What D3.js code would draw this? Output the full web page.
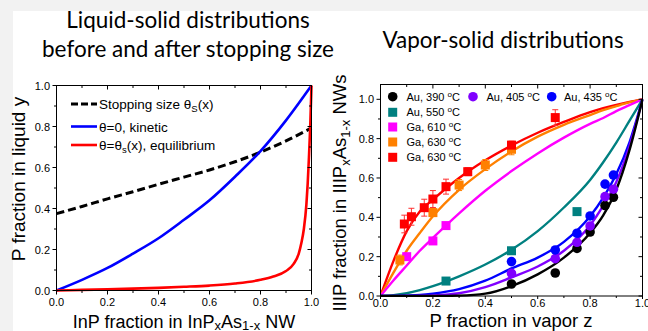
<!DOCTYPE html>
<html><head><meta charset="utf-8">
<script src="https://cdn.jsdelivr.net/npm/d3@7"></script>
<style>
html,body{margin:0;padding:0;background:#f2f2f2;}
svg{display:block;}
</style></head>
<body>
<svg id="c" width="648" height="331"></svg>
<script>
// ---------- Left panel data ----------
const leftX = [0,0.1,0.2,0.3,0.4,0.5,0.6,0.7,0.8,0.9,1.0];
const stopY = [0.375,0.41,0.447,0.482,0.518,0.553,0.588,0.628,0.675,0.73,0.793];
const kineticY = [0,0.052,0.11,0.18,0.255,0.345,0.44,0.555,0.68,0.83,1.0];
const equilX = [0,0.1,0.2,0.3,0.4,0.5,0.6,0.7,0.8,0.85,0.9,0.93,0.95,0.96,0.97,0.98,0.985,0.99,0.995,1.0];
const equilY = [0,0.003,0.006,0.009,0.013,0.018,0.024,0.034,0.052,0.068,0.095,0.13,0.18,0.23,0.3,0.42,0.52,0.65,0.8,1.0];
const leftTicks = ["0.0","0.2","0.4","0.6","0.8","1.0"];

// ---------- Right panel data ----------
const fitX = [0,0.05,0.1,0.15,0.2,0.3,0.4,0.5,0.6,0.7,0.8,0.85,0.9,0.95,1.0];
const fitAu390 = [0,0,0,0,0,0.002,0.012,0.05,0.11,0.195,0.32,0.41,0.54,0.74,1.0];
const fitAu405 = [0,0,0,0.001,0.003,0.014,0.045,0.095,0.15,0.23,0.36,0.46,0.58,0.76,1.0];
const fitAu435 = [0,0,0.002,0.005,0.012,0.035,0.078,0.14,0.195,0.275,0.405,0.5,0.62,0.78,1.0];
const fitAu550 = [0,0.004,0.014,0.03,0.05,0.1,0.16,0.235,0.33,0.45,0.59,0.68,0.78,0.89,1.0];
const fitGa610 = [0,0.08,0.155,0.23,0.295,0.42,0.535,0.635,0.725,0.805,0.875,0.905,0.94,0.97,1.0];
const fitGa630a = [0,0.12,0.23,0.32,0.405,0.54,0.645,0.735,0.81,0.87,0.92,0.945,0.965,0.984,1.0];
const fitGa630b = [0,0.18,0.33,0.43,0.49,0.6,0.69,0.765,0.83,0.885,0.935,0.955,0.972,0.987,1.0];

const auZ = [0.5,0.667,0.75,0.8,0.857,0.889];
const au390Y = [0.061,0.117,0.242,0.325,0.46,0.502];
const au405Y = [0.115,0.19,0.273,0.356,0.505,0.543];
const au435Y = [0.175,0.234,0.319,0.407,0.569,0.615];
const au550Z = [0.25,0.5,0.75];
const au550Y = [0.076,0.23,0.429];
const ga610Z = [0.1,0.2,0.25];
const ga610Y = [0.2,0.28,0.358];
const ga630aZ = [0.074,0.2,0.3,0.4,0.5];
const ga630aY = [0.183,0.424,0.564,0.666,0.746];
const ga630aE = [0.025,0.02,0.028,0.028,0.028];
const ga630bZ = [0.091,0.118,0.167,0.2,0.25,0.333,0.5,0.667];
const ga630bY = [0.366,0.403,0.449,0.493,0.556,0.632,0.767,0.907];
const ga630bE = [0.045,0.043,0.043,0.043,0.038,0.02,0.02,0.04];
const rightTicks = ["0.0","0.2","0.4","0.6","0.8","1.0"];

const legendLeft = ["Stopping size θS(x)","θ=0, kinetic","θ=θS(x), equilibrium"];
const legendRight = ["Au, 390 °C","Au, 405 °C","Au, 435 °C","Au, 550 °C","Ga, 610 °C","Ga, 630 °C","Ga, 630 °C"];

const svg = d3.select("#c");
const FONT = "'Liberation Sans', Arial, sans-serif";
const TFONT = "Lato, 'Open Sans', sans-serif";

svg.append("rect").attr("x",13).attr("y",11).attr("width",635).attr("height",320).attr("fill","#fff");

const t1 = svg.append("text").attr("font-family",TFONT).attr("font-size",22.5).attr("text-anchor","middle").attr("fill","#000");
t1.append("tspan").attr("x",188).attr("y",28).text("Liquid-solid distributions");
t1.append("tspan").attr("x",188).attr("y",57).text("before and after stopping size");
svg.append("text").attr("font-family",TFONT).attr("font-size",22.5).attr("text-anchor","middle")
  .attr("x",503).attr("y",48).text("Vapor-solid distributions");

function frameAxes(g, x, y, yTopVal, tickVals, minorVals, bMaj, bMin) {
  const [x0,x1] = x.range();
  const yb = y(0), yt = y(yTopVal);
  tickVals.forEach(v=>{
    g.append("line").attr("x1",x(v)).attr("x2",x(v)).attr("y1",yb).attr("y2",yb+bMaj).attr("stroke","#000");
    g.append("line").attr("x1",x(v)).attr("x2",x(v)).attr("y1",yt).attr("y2",yt+4).attr("stroke","#000");
    g.append("line").attr("y1",y(v)).attr("y2",y(v)).attr("x1",x0-4).attr("x2",x0).attr("stroke","#000");
    g.append("line").attr("y1",y(v)).attr("y2",y(v)).attr("x1",x1-4).attr("x2",x1).attr("stroke","#000");
  });
  minorVals.forEach(v=>{
    g.append("line").attr("x1",x(v)).attr("x2",x(v)).attr("y1",yb).attr("y2",yb+bMin).attr("stroke","#000");
    g.append("line").attr("x1",x(v)).attr("x2",x(v)).attr("y1",yt).attr("y2",yt+2.5).attr("stroke","#000");
    g.append("line").attr("y1",y(v)).attr("y2",y(v)).attr("x1",x0-2.5).attr("x2",x0).attr("stroke","#000");
    g.append("line").attr("y1",y(v)).attr("y2",y(v)).attr("x1",x1-2.5).attr("x2",x1).attr("stroke","#000");
  });
  g.append("rect").attr("x",x0).attr("y",yt).attr("width",x1-x0).attr("height",yb-yt)
    .attr("fill","none").attr("stroke","#000").attr("stroke-width",1);
}

// ================= LEFT PANEL =================
{
  const x = d3.scaleLinear().domain([0,1]).range([56.5,311.5]);
  const y = d3.scaleLinear().domain([0,1]).range([290.5,85.5]);
  const g = svg.append("g");
  const tv = leftTicks.map(Number);
  const minor = [0.1,0.3,0.5,0.7,0.9];
  svg.append("clipPath").attr("id","clipL").append("rect")
    .attr("x",56).attr("y",84).attr("width",258).attr("height",208);
  const line = d3.line().x(d=>x(d[0])).y(d=>y(d[1])).curve(d3.curveMonotoneX);
  const cg = g.append("g").attr("clip-path","url(#clipL)");
  cg.append("path").attr("d",line(leftX.map((v,i)=>[v,stopY[i]]))).attr("fill","none")
    .attr("stroke","#000").attr("stroke-width",3).attr("stroke-dasharray","8,4");
  cg.append("path").attr("d",line(leftX.map((v,i)=>[v,kineticY[i]]))).attr("fill","none")
    .attr("stroke","#0000ff").attr("stroke-width",2.6);
  cg.append("path").attr("d",line(equilX.map((v,i)=>[v,equilY[i]]))).attr("fill","none")
    .attr("stroke","#ff0000").attr("stroke-width",2.6);
  frameAxes(g, x, y, 1, tv, minor, 4, 2.5);
  tv.forEach((v,i)=>{
    g.append("text").attr("x",x(v)).attr("y",306).attr("text-anchor","middle")
      .attr("font-family",FONT).attr("font-size",11).text(leftTicks[i]);
    g.append("text").attr("x",50).attr("y",y(v)+4).attr("text-anchor","end")
      .attr("font-family",FONT).attr("font-size",11).text(leftTicks[i]);
  });
  const ly = [104,126.5,145];
  const lcol = ["#000","#0000ff","#ff0000"];
  ly.forEach((yy,i)=>{
    g.append("line").attr("x1",71).attr("x2",97).attr("y1",yy).attr("y2",yy)
      .attr("stroke",lcol[i]).attr("stroke-width",i===0?3:2.6)
      .attr("stroke-dasharray",i===0?"7,3":null);
  });
  const lt = (yy)=>g.append("text").attr("x",99).attr("y",yy+5).attr("font-family",FONT).attr("font-size",13.5);
  let a = lt(ly[0]);
  a.append("tspan").text("Stopping size θ");
  a.append("tspan").attr("font-size",9.5).attr("dy",3).text("S");
  a.append("tspan").attr("dy",-3).text("(x)");
  lt(ly[1]).text(legendLeft[1]);
  a = lt(ly[2]);
  a.append("tspan").text("θ=θ");
  a.append("tspan").attr("font-size",9.5).attr("dy",3).text("s");
  a.append("tspan").attr("dy",-3).text("(x), equilibrium");
  g.append("text").attr("transform","translate(25,179) rotate(-90)").attr("text-anchor","middle")
    .attr("font-family",FONT).attr("font-size",19).text("P fraction in liquid y");
  const xt = g.append("text").attr("x",184).attr("y",327.5).attr("text-anchor","middle")
    .attr("font-family",FONT).attr("font-size",18);
  xt.append("tspan").text("InP fraction in InP");
  xt.append("tspan").attr("font-size",13).attr("dy",2.5).text("x");
  xt.append("tspan").attr("dy",-2.5).text("As");
  xt.append("tspan").attr("font-size",13).attr("dy",2.5).text("1-x");
  xt.append("tspan").attr("dy",-2.5).text(" NW");
}

// ================= RIGHT PANEL =================
{
  const x = d3.scaleLinear().domain([0,1]).range([380.5,642.5]);
  const y = d3.scaleLinear().domain([0,1]).range([296, 99.3]);
  const yTop = y.invert(84.5);
  const g = svg.append("g");
  const tv = rightTicks.map(Number);
  const minor = [0.1,0.3,0.5,0.7,0.9];
  svg.append("clipPath").attr("id","clipR").append("rect")
    .attr("x",380).attr("y",84).attr("width",263.5).attr("height",213);
  const line = d3.line().x(d=>x(d[0])).y(d=>y(d[1])).curve(d3.curveMonotoneX);
  const cg = g.append("g").attr("clip-path","url(#clipR)");
  const fits = [[fitGa630b,"#ff0000"],[fitGa630a,"#ff8000"],[fitGa610,"#ff00ff"],[fitAu550,"#008080"],
                [fitAu435,"#0000ff"],[fitAu405,"#8000ff"],[fitAu390,"#000000"]];
  fits.forEach(([ys,c])=>{
    cg.append("path").attr("d",line(fitX.map((v,i)=>[v,ys[i]]))).attr("fill","none")
      .attr("stroke",c).attr("stroke-width",2.4);
  });
  function errs(zs,ys,es,c){
    zs.forEach((z,i)=>{
      const cx=x(z), y1=y(ys[i]+es[i]), y2=y(ys[i]-es[i]);
      g.append("line").attr("x1",cx).attr("x2",cx).attr("y1",y1).attr("y2",y2).attr("stroke",c).attr("stroke-width",1);
      g.append("line").attr("x1",cx-3).attr("x2",cx+3).attr("y1",y1).attr("y2",y1).attr("stroke",c).attr("stroke-width",1);
      g.append("line").attr("x1",cx-3).attr("x2",cx+3).attr("y1",y2).attr("y2",y2).attr("stroke",c).attr("stroke-width",1);
    });
  }
  errs(ga630aZ,ga630aY,ga630aE,"#ff8000");
  errs(ga630bZ,ga630bY,ga630bE,"#ff3030");
  function circles(zs,ys,c){
    zs.forEach((z,i)=>g.append("circle").attr("cx",x(z)).attr("cy",y(ys[i])).attr("r",4.8).attr("fill",c));
  }
  function squares(zs,ys,c){
    zs.forEach((z,i)=>g.append("rect").attr("x",x(z)-4.5).attr("y",y(ys[i])-4.5).attr("width",9).attr("height",9).attr("fill",c));
  }
  circles(auZ,au390Y,"#000000");
  circles(auZ,au405Y,"#8000ff");
  circles(auZ,au435Y,"#0000ff");
  squares(au550Z,au550Y,"#008080");
  squares(ga610Z,ga610Y,"#ff00ff");
  squares(ga630aZ,ga630aY,"#ff8000");
  squares(ga630bZ,ga630bY,"#ff0000");

  frameAxes(g, x, y, yTop, tv, minor, 3, 2);
  tv.forEach((v,i)=>{
    g.append("text").attr("x",x(v)).attr("y",307).attr("text-anchor","middle")
      .attr("font-family",FONT).attr("font-size",11).text(rightTicks[i]);
    g.append("text").attr("x",374).attr("y",y(v)+4).attr("text-anchor","end")
      .attr("font-family",FONT).attr("font-size",11).text(rightTicks[i]);
  });
  const leg = [
    {mx:392.7,my:96.7,tx:406.5,c:"#000000",s:"c"},
    {mx:473,my:96.7,tx:486.5,c:"#8000ff",s:"c"},
    {mx:551.7,my:96.7,tx:564,c:"#0000ff",s:"c"},
    {mx:392.7,my:112.3,tx:406.5,c:"#008080",s:"s"},
    {mx:392.7,my:127,tx:406.5,c:"#ff00ff",s:"s"},
    {mx:392.7,my:142,tx:406.5,c:"#ff8000",s:"s"},
    {mx:392.7,my:157.3,tx:406.5,c:"#ff0000",s:"s"}
  ];
  leg.forEach((d,i)=>{
    if(d.s==="c") g.append("circle").attr("cx",d.mx).attr("cy",d.my).attr("r",4.8).attr("fill",d.c);
    else g.append("rect").attr("x",d.mx-4.5).attr("y",d.my-4.5).attr("width",9).attr("height",9).attr("fill",d.c);
    const parts = legendRight[i].split(" °");
    const t = g.append("text").attr("x",d.tx).attr("y",d.my+4).attr("font-family",FONT).attr("font-size",11);
    t.append("tspan").text(parts[0]+" ");
    t.append("tspan").attr("font-size",8).attr("dy",-4).text("o");
    t.append("tspan").attr("dy",4).text(parts[1]);
  });
  const yt = g.append("text").attr("transform","translate(346,193) rotate(-90)").attr("text-anchor","middle")
    .attr("font-family",FONT).attr("font-size",18.5);
  yt.append("tspan").text("IIIP fraction in IIIP");
  yt.append("tspan").attr("font-size",13).attr("dy",4).text("x");
  yt.append("tspan").attr("dy",-4).text("As");
  yt.append("tspan").attr("font-size",13).attr("dy",4).text("1-x");
  yt.append("tspan").attr("dy",-4).text(" NWs");
  g.append("text").attr("x",511).attr("y",327).attr("text-anchor","middle")
    .attr("font-family",FONT).attr("font-size",18.5).text("P fraction in vapor z");
}
</script>
</body></html>
